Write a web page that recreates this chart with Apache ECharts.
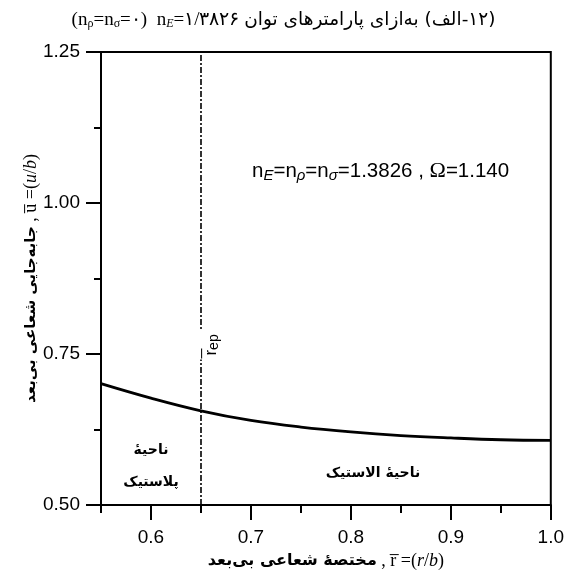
<!DOCTYPE html>
<html>
<head>
<meta charset="utf-8">
<script src="https://cdn.jsdelivr.net/npm/echarts@6/dist/echarts.min.js"></script>
<style>
  html, body { margin: 0; padding: 0; background: #fff; }
  #chart { width: 567px; height: 578px; }
</style>
</head>
<body>
<div id="chart"></div>
<script>
// dimensionless radius r/b and radial displacement u/b
const rValues = [0.55, 0.6, 0.65, 0.7, 0.75, 0.8, 0.85, 0.9, 0.95, 1.0];
const uValues = [0.701, 0.677, 0.656, 0.640, 0.629, 0.621, 0.615, 0.611, 0.608, 0.607];

const rEp = 0.65;
const rEpLabelAt = 0.765;
const xMajor = [0.6, 0.7, 0.8, 0.9, 1.0];
const xMinor = [0.55, 0.65, 0.75, 0.85, 0.95];
const yMajor = [0.5, 0.75, 1.0, 1.25];
const yMinor = [0.625, 0.875, 1.125];

const LAT = "'Liberation Sans', Arial, sans-serif";
const SER = "'Liberation Serif', 'DejaVu Serif', serif";
const FA = "'DejaVu Sans', sans-serif";
const RLI = '\u2067', PDI = '\u2069';

const chart = echarts.init(document.getElementById('chart'));

const axisLine = { show: true, lineStyle: { color: '#000', width: 2 } };

const option = {
  animation: false,
  backgroundColor: '#fff',
  title: {
    left: 'center', top: 5,
    text: '{t|(n}{s|ρ}{t|=n}{s|σ}{t|=۰)  n}{si|E}{t|=۱/۳۸۲۶ }{fa|' + RLI + '(۱۲-الف) به‌ازای پارامترهای توان' + PDI + '}',
    textStyle: {
      fontWeight: 'normal',
      rich: {
        t: { fontFamily: SER, fontSize: 19, fontWeight: 'normal', color: '#000' },
        s: { fontFamily: SER, fontSize: 12, fontWeight: 'normal', color: '#000', padding: [8, 0, 0, 0] },
        si: { fontFamily: SER, fontSize: 12, fontWeight: 'normal', fontStyle: 'italic', color: '#000', padding: [8, 0, 0, 0] },
        fa: { fontFamily: FA, fontSize: 18.5, fontWeight: 'normal', color: '#000' }
      }
    }
  },
  grid: { left: 101, right: 15, top: 52, bottom: 73, show: true, borderColor: '#000', borderWidth: 2 },
  xAxis: [
    {
      type: 'value', min: 0.55, max: 1.0, position: 'bottom',
      axisLine: axisLine,
      axisTick: { show: true, inside: false, length: 8, lineStyle: { color: '#000', width: 2 }, customValues: xMinor },
      axisLabel: { show: false },
      splitLine: { show: false },
      name: '{fa|' + RLI + 'مختصهٔ شعاعی بی‌بعد' + PDI + '}{t| , r\u0305 =(}{i|r}{t|/}{i|b}{t|)}',
      nameLocation: 'middle', nameGap: 47,
      nameTextStyle: {
        rich: {
          fa: { fontFamily: FA, fontSize: 16, fontWeight: 'bold', color: '#000' },
          t: { fontFamily: SER, fontSize: 18, color: '#000' },
          i: { fontFamily: SER, fontSize: 18, fontStyle: 'italic', color: '#000' }
        }
      }
    },
    {
      type: 'value', min: 0.55, max: 1.0, position: 'bottom',
      axisLine: { show: false },
      axisTick: { show: true, inside: false, length: 15, lineStyle: { color: '#000', width: 2 }, customValues: xMajor },
      axisLabel: {
        show: true, customValues: xMajor, margin: 23,
        fontFamily: LAT, fontSize: 19, color: '#000',
        formatter: v => v.toFixed(1)
      },
      splitLine: { show: false }
    }
  ],
  yAxis: [
    {
      type: 'value', min: 0.5, max: 1.25, position: 'left',
      axisLine: axisLine,
      axisTick: { show: true, inside: false, length: 7, lineStyle: { color: '#000', width: 2 }, customValues: yMinor },
      axisLabel: { show: false },
      splitLine: { show: false },
      name: '{fa|' + RLI + 'جابه‌جایی شعاعی بی‌بعد' + PDI + '}{t| , u\u0305 =(}{i|u}{t|/}{i|b}{t|)}',
      nameLocation: 'middle', nameGap: 61, nameRotate: 90,
      nameTextStyle: {
        rich: {
          fa: { fontFamily: FA, fontSize: 15, fontWeight: 'bold', color: '#000' },
          t: { fontFamily: SER, fontSize: 18, color: '#000' },
          i: { fontFamily: SER, fontSize: 18, fontStyle: 'italic', color: '#000' }
        }
      }
    },
    {
      type: 'value', min: 0.5, max: 1.25, position: 'left',
      axisLine: { show: false },
      axisTick: { show: true, inside: false, length: 15, lineStyle: { color: '#000', width: 2 }, customValues: yMajor },
      axisLabel: {
        show: true, customValues: yMajor, margin: 21,
        fontFamily: LAT, fontSize: 19, color: '#000',
        formatter: v => v.toFixed(2)
      },
      splitLine: { show: false }
    }
  ],
  graphic: [
    {
      type: 'text', left: 252, top: 160,
      style: {
        text: '{t|n}{s|E}{t|=n}{s|ρ}{t|=n}{s|σ}{t|=1.3826 , }{o|Ω}{t|=1.140}',
        rich: {
          t: { fontFamily: LAT, fontSize: 20.5, fill: '#000' },
          s: { fontFamily: LAT, fontSize: 15, fontStyle: 'italic', fill: '#000', padding: [9, 0, 0, 0] },
          o: { fontFamily: SER, fontSize: 22, fill: '#000' }
        }
      }
    },
    {
      type: 'text', x: 151, y: 466,
      style: {
        text: RLI + 'ناحیهٔ' + PDI + '\n' + RLI + 'پلاستیک' + PDI,
        align: 'center', verticalAlign: 'middle', lineHeight: 32,
        fontFamily: FA, fontSize: 14, fontWeight: 'bold', fill: '#000'
      }
    },
    {
      type: 'text', x: 373, y: 473,
      style: {
        text: RLI + 'ناحیهٔ الاستیک' + PDI,
        align: 'center', verticalAlign: 'middle',
        fontFamily: FA, fontSize: 14, fontWeight: 'bold', fill: '#000'
      }
    }
  ],
  series: [
    {
      type: 'line',
      data: rValues.map((r, i) => [r, uValues[i]]),
      xAxisIndex: 0, yAxisIndex: 0,
      smooth: 0.4, showSymbol: false,
      lineStyle: { color: '#000', width: 2.8 },
      z: 3,
      markLine: {
        silent: true, symbol: 'none', z: 2,
        lineStyle: { color: '#000', width: 1.6, type: [6, 2, 2, 2] },
        label: { show: false },
        data: [{ xAxis: rEp }]
      },
      markPoint: {
        silent: true, symbol: 'rect', symbolSize: [1, 1], z: 10,
        itemStyle: { color: 'rgba(0,0,0,0)' },
        label: {
          show: true, position: 'inside', offset: [0, 6],
          formatter: '{a|r\u0305}{b|ep}',
          rotate: 90,
          backgroundColor: '#fff', padding: [12, 4, 4, 4],
          rich: {
            a: { fontFamily: LAT, fontSize: 17, color: '#000' },
            b: { fontFamily: LAT, fontSize: 14, color: '#000', padding: [6, 0, 0, 0] }
          }
        },
        data: [{ coord: [rEp, rEpLabelAt] }]
      }
    }
  ]
};

chart.setOption(option);
</script>
</body>
</html>
